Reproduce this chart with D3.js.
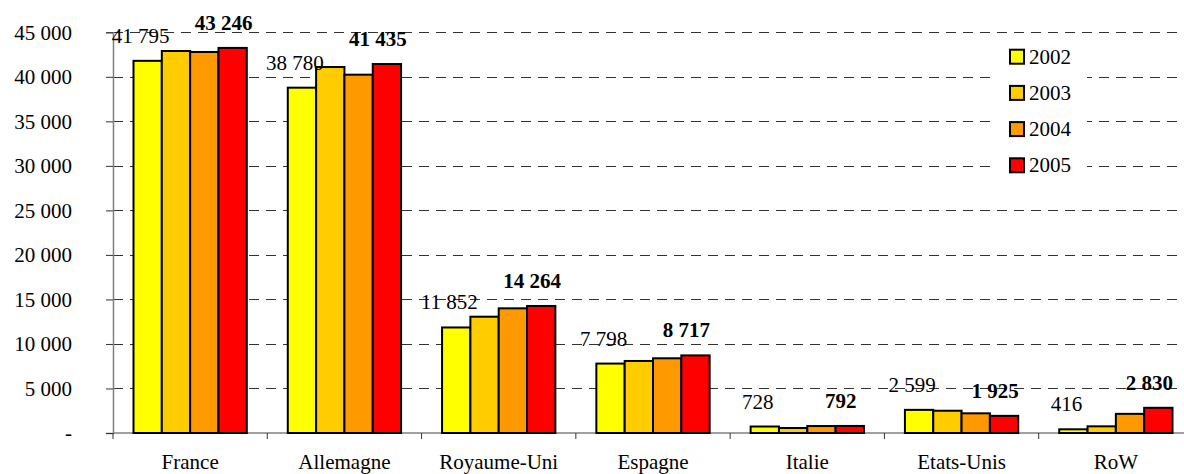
<!DOCTYPE html>
<html><head><meta charset="utf-8">
<script src="https://cdn.jsdelivr.net/npm/d3@7"></script>
<style>body{margin:0;background:#fff}svg{display:block}</style>
</head><body><svg id="c" width="1184" height="474"></svg>
<script>
const categories = ["France","Allemagne","Royaume-Uni","Espagne","Italie","Etats-Unis","RoW"];
const years = ["2002","2003","2004","2005"];
const v2002 = [41795, 38780, 11852, 7798, 728, 2599, 416];
const v2003 = [42900, 41100, 13060, 8090, 560, 2500, 750];
const v2004 = [42790, 40240, 14000, 8390, 780, 2210, 2150];
const v2005 = [43246, 41435, 14264, 8717, 792, 1925, 2830];
const yTicks = [0,5000,10000,15000,20000,25000,30000,35000,40000,45000];
const colors = ["#FFFF00","#FFCC00","#FF9900","#FF0000"];

const series = [v2002, v2003, v2004, v2005];
const svg = d3.select("#c");
const W = 1184, left = 113, base = 433;
const FF = "Liberation Serif";
const y = d3.scaleLinear().domain([0,45000]).range([base, 32.3]);
const x = d3.scaleBand().domain(categories).range([left, 1193]);
const x1 = d3.scaleBand().domain(years).range([20.5, x.bandwidth()-20.5]);
const fmt = v => v === 0 ? "-" : d3.format(",")(v).replace(/,/g, " ");

// gridlines
svg.append("g").selectAll("line").data(yTicks.filter(t => t > 0)).join("line")
  .attr("x1", left).attr("x2", 1181).attr("y1", d => Math.round(y(d))+0.5).attr("y2", d => Math.round(y(d))+0.5)
  .attr("stroke", "#333").attr("stroke-width", 1).attr("stroke-dasharray", "10,7");

// y axis
const yAxis = svg.append("g").attr("transform", `translate(${left},0)`)
  .call(d3.axisLeft(y).tickValues(yTicks).tickSize(7).tickPadding(34).tickFormat(fmt));
yAxis.attr("font-family", FF);
yAxis.select(".domain").attr("stroke", "#808080").attr("stroke-width", 1.5);
yAxis.selectAll(".tick line").attr("stroke", "#333");
yAxis.selectAll("text").attr("font-size", 21).attr("fill", "#000");

// x axis line and ticks
svg.append("line").attr("x1", left).attr("x2", W).attr("y1", base).attr("y2", base)
  .attr("stroke", "#808080").attr("stroke-width", 1.5);
svg.append("g").selectAll("line").data(categories).join("line")
  .attr("x1", d => x(d)).attr("x2", d => x(d)).attr("y1", base).attr("y2", base+6)
  .attr("stroke", "#333");
svg.append("g").attr("font-family", FF).selectAll("text").data(categories).join("text")
  .attr("x", d => x(d) + x.bandwidth()/2).attr("y", 469)
  .attr("text-anchor", "middle").attr("font-size", 21).text(d => d);

// bars
const g = svg.append("g");
years.forEach((yr, si) => {
  g.append("g").selectAll("rect").data(series[si]).join("rect")
    .attr("x", (d,i) => x(categories[i]) + x1(yr))
    .attr("y", d => y(d))
    .attr("width", x1.bandwidth())
    .attr("height", d => base - y(d))
    .attr("fill", colors[si]).attr("stroke", "#000").attr("stroke-width", 2);
});

// labels
svg.append("g").attr("font-family", FF).selectAll("text").data(v2002).join("text")
  .attr("x", (d,i) => x(categories[i]) + x1("2002") + x1.bandwidth()/2 - 7)
  .attr("y", d => y(d) - 18).attr("text-anchor", "middle").attr("font-size", 21)
  .text(fmt);
svg.append("g").attr("font-family", FF).selectAll("text").data(v2005).join("text")
  .attr("x", (d,i) => x(categories[i]) + x1("2005") + x1.bandwidth()/2 - 9)
  .attr("y", d => y(d) - 18).attr("text-anchor", "middle").attr("font-size", 21)
  .attr("font-weight", "bold").text(fmt);

// legend
const lg = svg.append("g").attr("font-family", FF);
lg.append("rect").attr("x", 997).attr("y", 40).attr("width", 90).attr("height", 144).attr("fill", "#fff");
years.forEach((yr, i) => {
  const cy = 56.7 + i*36.2;
  lg.append("rect").attr("x", 1010).attr("y", cy-7).attr("width", 14).attr("height", 14)
    .attr("fill", colors[i]).attr("stroke", "#000").attr("stroke-width", 2);
  lg.append("text").attr("x", 1029).attr("y", cy+7).attr("font-size", 21).text(yr);
});
</script></body></html>
